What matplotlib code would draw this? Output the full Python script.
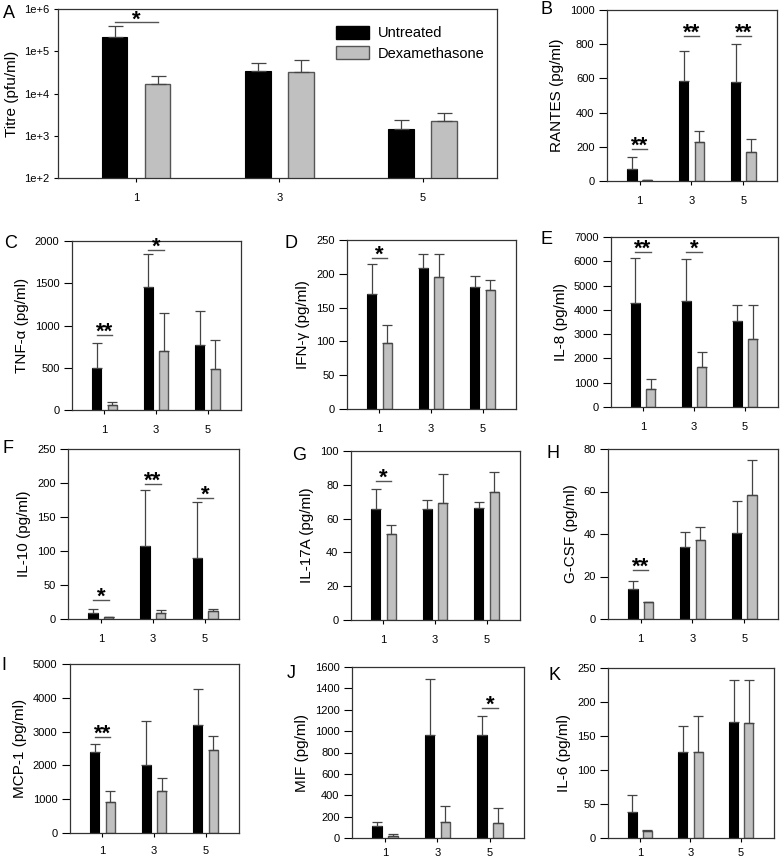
import numpy as np
import matplotlib
matplotlib.use('Agg')
import matplotlib.pyplot as plt
from matplotlib.patches import Patch

plt.rcParams['font.family'] = ['Liberation Sans', 'DejaVu Sans']

W, H = 781, 859
C_UN = 'black'
C_DEX = '#c0c0c0'
C_EDGE = '#555555'

days = ['1', '3', '5']

# ---- A: viral titre (log) ----
titre_un = [2.17e5, 3.4e4, 1.47e3]
titre_un_sd = [1.73e5, 1.8e4, 8.3e2]
titre_dex = [1.7e4, 3.2e4, 2.23e3]
titre_dex_sd = [9e3, 2.9e4, 1.27e3]
titre_sig = [(0, '*', 4.8e5)]

# ---- B..K: cytokines (pg/ml) ----
rantes_un = [72, 587, 581];      rantes_un_sd = [66, 175, 222]
rantes_dex = [3, 226, 168];      rantes_dex_sd = [0, 66, 76]
rantes_sig = [(0, '**', 185), (1, '**', 848), (2, '**', 848)]

tnf_un = [500, 1455, 775];       tnf_un_sd = [287, 395, 391]
tnf_dex = [60, 700, 488];        tnf_dex_sd = [31, 450, 338]
tnf_sig = [(0, '**', 893), (1, '*', 1889)]

ifn_un = [170, 208, 181];        ifn_un_sd = [45, 21, 16]
ifn_dex = [98, 196, 176];        ifn_dex_sd = [26, 33, 15]
ifn_sig = [(0, '*', 224)]

il8_un = [4280, 4350, 3540];     il8_un_sd = [1840, 1730, 670]
il8_dex = [760, 1630, 2810];     il8_dex_sd = [385, 630, 1410]
il8_sig = [(0, '**', 6370), (1, '*', 6370)]

il10_un = [8.3, 108, 89];        il10_un_sd = [6.9, 81, 83]
il10_dex = [3, 8.3, 11.3];       il10_dex_sd = [0, 4.4, 3.9]
il10_sig = [(0, '*', 28.4), (1, '**', 198), (2, '*', 178)]

il17_un = [65.7, 65.7, 66.5];    il17_un_sd = [12, 5.3, 3.2]
il17_dex = [50.9, 69.2, 76];     il17_dex_sd = [5.3, 17.4, 11.8]
il17_sig = [(0, '*', 82.5)]

gcsf_un = [14.1, 33.7, 40.3];    gcsf_un_sd = [3.8, 7.4, 15.4]
gcsf_dex = [7.9, 37.2, 58.3];    gcsf_dex_sd = [0, 6.3, 16.7]
gcsf_sig = [(0, '**', 23.2)]

mcp_un = [2400, 2010, 3206];     mcp_un_sd = [237, 1304, 1069]
mcp_dex = [912, 1235, 2461];     mcp_dex_sd = [343, 392, 421]
mcp_sig = [(0, '**', 2843)]

mif_un = [115, 967, 960];        mif_un_sd = [35, 521, 182]
mif_dex = [20, 150, 145];        mif_dex_sd = [20, 145, 140]
mif_sig = [(2, '*', 1216)]

il6_un = [38.6, 127, 170];       il6_un_sd = [24.4, 38, 63]
il6_dex = [10.5, 127, 169];      il6_dex_sd = [1.5, 52, 64]
il6_sig = []


def px_axes(fig, l, t, r, b):
    return fig.add_axes([l / W, 1 - b / H, (r - l) / W, (b - t) / H])


def panel(ax, un, un_sd, dex, dex_sd, sig, ylabel, yticks, letter, lpos,
          xlim=(-0.63, 2.65), w=0.18, off=0.15, cap=3.8, xpad=8):
    x = np.arange(len(days))
    ax.bar(x - off, un, w, color=C_UN, edgecolor=C_UN, lw=0.8, zorder=2)
    ax.bar(x + off, dex, w, color=C_DEX, edgecolor=C_EDGE, lw=1, zorder=2)
    for xs, v, sd in [(x - off, un, un_sd), (x + off, dex, dex_sd)]:
        ax.errorbar(xs, v, yerr=[np.zeros(len(sd)), sd], fmt='none',
                    ecolor='#444444', elinewidth=0.9, capsize=cap,
                    capthick=0.9, zorder=3)
    for i, s, y in sig:
        ax.plot([i - off, i + off], [y, y], color='#555555', lw=1, zorder=3)
        ax.annotate(s, xy=(i, y), xytext=(0, -2), textcoords='offset points',
                    ha='center', va='baseline', fontsize=16,
                    fontweight='bold')
    ax.set_xlim(*xlim)
    ax.set_xticks(x)
    ax.set_xticklabels(days)
    ax.set_yticks(yticks)
    ax.set_ylim(yticks[0], yticks[-1])
    ax.set_ylabel(ylabel, fontsize=11)
    ax.tick_params(axis='y', length=6, width=0.8, labelsize=8, pad=3)
    ax.tick_params(axis='x', length=3, width=0.8, labelsize=8, pad=xpad)
    for sp in ax.spines.values():
        sp.set_linewidth(0.9)
        sp.set_color('#333333')
    fig.text(lpos[0] / W, 1 - lpos[1] / H, letter, fontsize=13,
             ha='left', va='center')


fig = plt.figure(figsize=(W / 100, H / 100), dpi=100)

# A
axA = px_axes(fig, 58, 9, 497, 178)
axA.set_yscale('log')
panel(axA, titre_un, titre_un_sd, titre_dex, titre_dex_sd, titre_sig,
      'Titre (pfu/ml)', [1e2, 1e3, 1e4, 1e5, 1e6], 'A', (3, 13),
      xlim=(-0.545, 2.52), w=0.18, off=0.15, cap=5.4)
axA.yaxis.set_minor_locator(matplotlib.ticker.NullLocator())
axA.set_yticklabels(['1e+2', '1e+3', '1e+4', '1e+5', '1e+6'])
axA.tick_params(axis='y', length=3)
axA.legend(handles=[Patch(facecolor=C_UN, edgecolor=C_UN, label='Untreated'),
                    Patch(facecolor=C_DEX, edgecolor=C_EDGE, label='Dexamethasone')],
           loc='upper left', bbox_to_anchor=((330 - 58) / 439, 1 - (20 - 9) / 169),
           frameon=False, fontsize=10.5, handlelength=2.3, handleheight=1.0,
           labelspacing=0.4, handletextpad=0.6, borderaxespad=0)

axB = px_axes(fig, 607, 10, 777, 181)
panel(axB, rantes_un, rantes_un_sd, rantes_dex, rantes_dex_sd, rantes_sig,
      'RANTES (pg/ml)', [0, 200, 400, 600, 800, 1000], 'B', (541, 9))

axC = px_axes(fig, 72, 241, 241, 410)
panel(axC, tnf_un, tnf_un_sd, tnf_dex, tnf_dex_sd, tnf_sig,
      'TNF-α (pg/ml)', [0, 500, 1000, 1500, 2000], 'C', (4, 243))

axD = px_axes(fig, 347, 240, 516, 409)
panel(axD, ifn_un, ifn_un_sd, ifn_dex, ifn_dex_sd, ifn_sig,
      'IFN-γ (pg/ml)', [0, 50, 100, 150, 200, 250], 'D', (285, 244))

axE = px_axes(fig, 611, 237, 778, 407)
panel(axE, il8_un, il8_un_sd, il8_dex, il8_dex_sd, il8_sig,
      'IL-8 (pg/ml)', [0, 1000, 2000, 3000, 4000, 5000, 6000, 7000], 'E', (540, 240))

axF = px_axes(fig, 68, 449, 239, 619)
panel(axF, il10_un, il10_un_sd, il10_dex, il10_dex_sd, il10_sig,
      'IL-10 (pg/ml)', [0, 50, 100, 150, 200, 250], 'F', (3, 449))

axG = px_axes(fig, 351, 451, 520, 620)
panel(axG, il17_un, il17_un_sd, il17_dex, il17_dex_sd, il17_sig,
      'IL-17A (pg/ml)', [0, 20, 40, 60, 80, 100], 'G', (292, 455))

axH = px_axes(fig, 608, 449, 778, 619)
panel(axH, gcsf_un, gcsf_un_sd, gcsf_dex, gcsf_dex_sd, gcsf_sig,
      'G-CSF (pg/ml)', [0, 20, 40, 60, 80], 'H', (546, 453))

axI = px_axes(fig, 70, 664, 239, 833)
panel(axI, mcp_un, mcp_un_sd, mcp_dex, mcp_dex_sd, mcp_sig,
      'MCP-1 (pg/ml)', [0, 1000, 2000, 3000, 4000, 5000], 'I', (1, 665), xpad=6)

axJ = px_axes(fig, 352, 667, 524, 838)
panel(axJ, mif_un, mif_un_sd, mif_dex, mif_dex_sd, mif_sig,
      'MIF (pg/ml)', [0, 200, 400, 600, 800, 1000, 1200, 1400, 1600], 'J', (287, 674),
      xpad=4)

axK = px_axes(fig, 608, 668, 774, 838)
panel(axK, il6_un, il6_un_sd, il6_dex, il6_dex_sd, il6_sig,
      'IL-6 (pg/ml)', [0, 50, 100, 150, 200, 250], 'K', (548, 676), xpad=4)

plt.savefig('out.png', dpi=100)
